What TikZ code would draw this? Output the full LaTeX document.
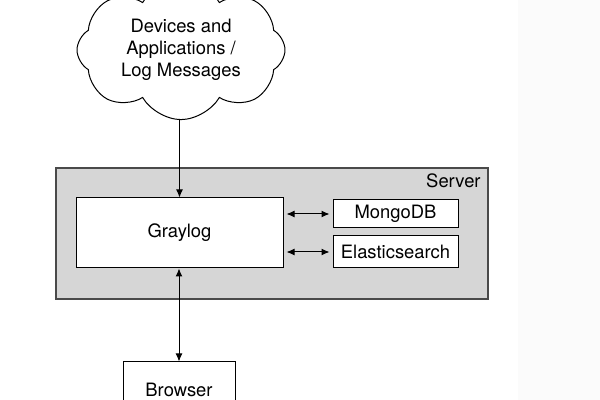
\documentclass[tikz,border=0pt]{standalone}
\usepackage{fontspec}
\setmainfont{TeX Gyre Heros}
\usetikzlibrary{positioning, arrows.meta, shapes.symbols}
\definecolor{servergray}{HTML}{D6D6D6}
\definecolor{serverline}{HTML}{4A4A4A}
\definecolor{stripgray}{HTML}{FBFBFB}

\begin{document}
\begin{tikzpicture}[
    x=0.5pt, y=-0.5pt,
    every node/.style={font=\fontsize{9.2}{11}\selectfont},
    block/.style={draw, fill=white, line width=0.5pt, inner sep=0pt, align=center},
    link/.style={{Latex[length=4pt,width=3.5pt]}-{Latex[length=4pt,width=3.5pt]}, line width=0.5pt},
    >={Latex[length=4pt,width=3.5pt]},
  ]
  \useasboundingbox (0,0) rectangle (600,400);
  \clip (0,0) rectangle (600,400);
  \fill[stripgray] (518,0) rectangle (600,400);

  % Sources
  \node[cloud, draw, line width=0.5pt, cloud puffs=8, cloud puff arc=120, cloud ignores aspect,
    minimum width=104pt, minimum height=62pt, align=center] (src) at (181,50)
    {Devices and\\Applications /\\Log Messages};

  % Server
  \node[draw=serverline, fill=servergray, line width=0.8pt, minimum width=216pt, minimum height=65.5pt] (server) at (272,233.5) {};
  \node[anchor=north east, inner sep=0pt] (serverlbl) at (481,173) {Server};

  \node[block, minimum width=103.5pt, minimum height=35pt] (graylog) at (179.5,233) {Graylog};
  \node[block, minimum width=62.5pt, minimum height=14pt] (mongo) at (395.5,214) {MongoDB};
  \node[block, minimum width=62.5pt, minimum height=16pt] (elastic) at (395.5,252) {Elasticsearch};

  % Client
  \node[block, minimum width=56pt, minimum height=28pt] (browser) at (179,390) {Browser};

  \draw[->, line width=0.5pt] (graylog.north |- src.south) -- (graylog.north);
  \draw[link, shorten <=1.5pt, shorten >=1.5pt] (graylog.east |- mongo) -- (mongo.west);
  \draw[link, shorten <=1.5pt, shorten >=1.5pt] (graylog.east |- elastic) -- (elastic.west);
  \draw[link] (graylog.south -| browser.north) -- (browser.north);
\end{tikzpicture}
\end{document}
